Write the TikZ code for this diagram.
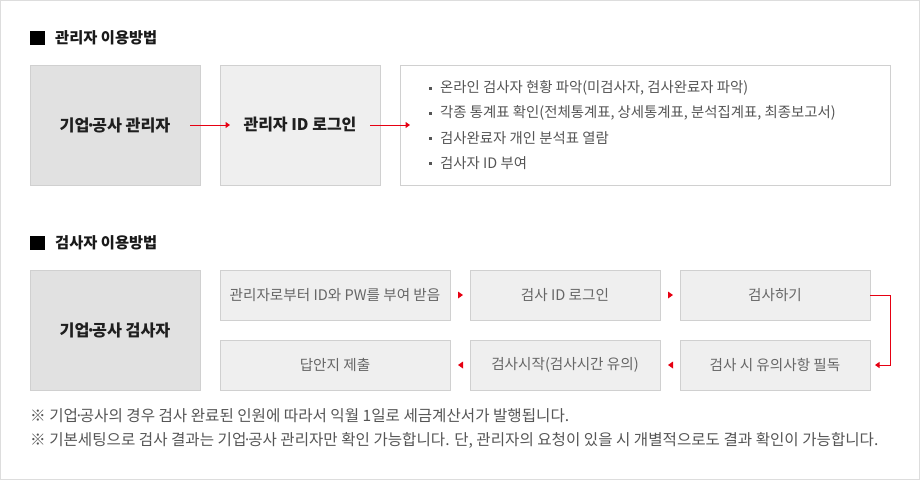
\documentclass[tikz,border=0pt]{standalone}
\usepackage{fontspec}
\setmainfont{Noto Sans CJK KR}
\usetikzlibrary{arrows.meta,calc}
\definecolor{frame}{HTML}{DDDDDD}
\definecolor{boxline}{HTML}{D0D0D0}
\definecolor{darkfill}{HTML}{E1E1E1}
\definecolor{lightfill}{HTML}{EFEFEF}
\definecolor{txtgray}{HTML}{666666}
\definecolor{txtdark}{HTML}{555555}
\definecolor{arrowred}{HTML}{E60012}
\newcommand{\mdot}{\kern-0.22em·\kern-0.22em}
\tikzset{
  box/.style={draw=boxline, line width=1pt, inner sep=0pt, outer sep=0pt, anchor=north west},
  bigbox/.style={box, fill=darkfill, minimum width=170pt, minimum height=120pt, font=\fontsize{16.2pt}{18pt}\selectfont\bfseries, text=black!88},
  midbox/.style={box, fill=lightfill, minimum width=160pt, minimum height=120pt, font=\fontsize{16pt}{18pt}\selectfont\bfseries, text=black!88},
  stepbox/.style={box, fill=lightfill, minimum height=50pt, font=\fontsize{14.6pt}{16pt}\selectfont, text=txtgray},
  head/.style={anchor=west, inner sep=0pt, font=\fontsize{15.3pt}{16pt}\selectfont\bfseries, text=black!90},
  item/.style={anchor=west, inner sep=0pt, font=\fontsize{14.4pt}{16pt}\selectfont, text=txtdark},
  note/.style={anchor=west, inner sep=0pt, font=\fontsize{15.6pt}{16pt}\selectfont, text=txtdark},
  redarrow/.style={draw=arrowred, line width=1pt, -{Triangle[length=4.5pt,width=6pt]}},
  tri/.style={fill=arrowred}
}
\begin{document}
\begin{tikzpicture}[x=1pt,y=-1pt]
\useasboundingbox (0,0) rectangle (920,480);
\draw[frame, line width=1pt] (0.5,0.5) rectangle (919.5,479.5);

% section 1
\fill[black] (30,31) rectangle (45,45);
\node[head] (h1) at (55,38) {관리자 이용방법};
\node[bigbox] (a) at (30,65) {기업\mdot 공사 관리자};
\node[midbox] (b) at (220,65) {관리자 ID 로그인};
\node[box, fill=white, minimum width=490pt, minimum height=120pt] (c) at (400,65) {};
\coordinate (a1) at (190,125);
\coordinate (a2) at (230,125);
\coordinate (b1) at (370,125);
\coordinate (b2) at (410,125);
\draw[redarrow] (a1) -- (a2);
\draw[redarrow] (b1) -- (b2);
\foreach \y/\t [count=\i] in {88/{온라인 검사자 현황 파악(미검사자, 검사완료자 파악)},113/{각종 통계표 확인(전체통계표, 상세통계표, 분석집계표, 최종보고서)},138/{검사완료자 개인 분석표 열람},163/{검사자 ID 부여}}{
  \fill[txtdark] (429,\y-1.5) rectangle ++(3,3);
  \node[item] (i\i) at (440,\y) {\t};
}

% section 2
\fill[black] (30,236) rectangle (45,250);
\node[head] (h2) at (55,243) {검사자 이용방법};
\node[bigbox] (d) at (30,270) {기업\mdot 공사 검사자};
\node[stepbox, minimum width=230pt] (s1) at (220,270) {관리자로부터 ID와 PW를 부여 받음};
\node[stepbox, minimum width=190pt] (s2) at (470,270) {검사 ID 로그인};
\node[stepbox, minimum width=190pt] (s3) at (680,270) {검사하기};
\node[stepbox, minimum width=230pt] (s6) at (220,340) {답안지 제출};
\node[stepbox, minimum width=190pt] (s5) at (470,340) {검사시작(검사시간 유의)};
\node[stepbox, minimum width=190pt] (s4) at (680,340) {검사 시 유의사항 필독};

% small red triangles
\fill[tri] ($(s1.east)+(8,-3.5)$) -- ++(5,3.5) -- ++(-5,3.5) -- cycle;
\fill[tri] ($(s2.east)+(8,-3.5)$) -- ++(5,3.5) -- ++(-5,3.5) -- cycle;
\fill[tri] ($(s6.east)+(13,-3.5)$) -- ++(-5,3.5) -- ++(5,3.5) -- cycle;
\fill[tri] ($(s5.east)+(13,-3.5)$) -- ++(-5,3.5) -- ++(5,3.5) -- cycle;

\coordinate (c1) at (890,295);
\coordinate (c2) at (890,365);
\coordinate (c3) at (875,365);
\draw[redarrow] (s3.east) -- (c1) -- (c2) -- (c3);

% notes
\node[note] (n1) at (30,416) {※ 기업\mdot 공사의 경우 검사 완료된 인원에 따라서 익월 1일로 세금계산서가 발행됩니다.};
\node[note] (n2) at (30,440) {※ 기본세팅으로 검사 결과는 기업\mdot 공사 관리자만 확인 가능합니다. 단, 관리자의 요청이 있을 시 개별적으로도 결과 확인이 가능합니다.};
\end{tikzpicture}
\end{document}
